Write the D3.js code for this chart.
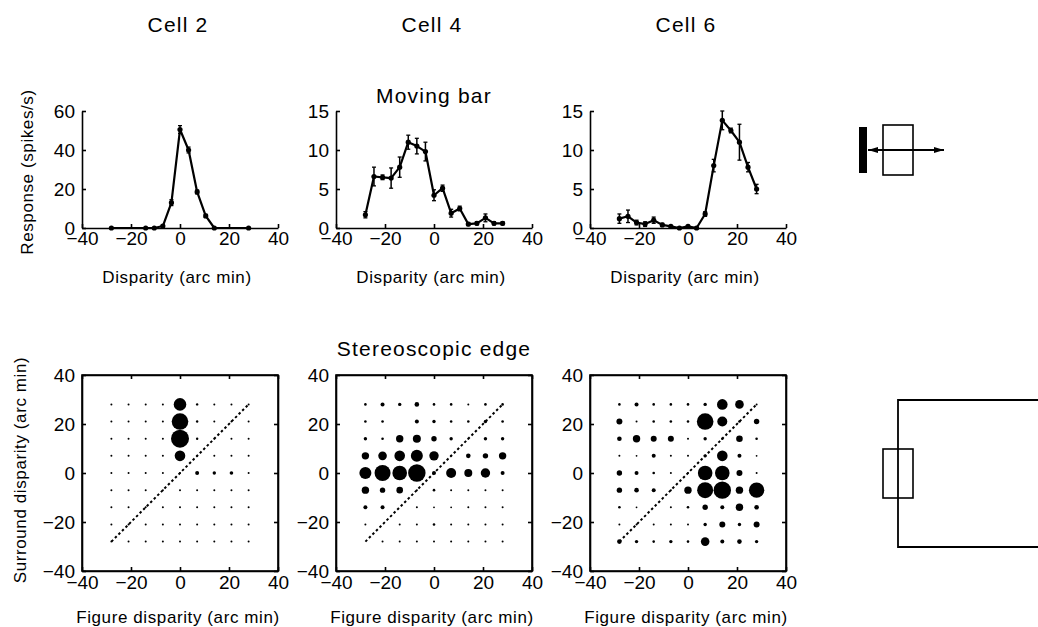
<!DOCTYPE html>
<html>
<head>
<meta charset="utf-8">
<script src="https://cdn.jsdelivr.net/npm/d3@7/dist/d3.min.js"></script>
<style>
  body { margin: 0; background: #fff; }
  svg { display: block; font-family: "Liberation Sans", Arial, sans-serif; }
</style>
</head>
<body>
<script>
// ---- data ----
var cellNames = ["Cell 2", "Cell 4", "Cell 6"];

// moving bar tuning curves (disparity in arc min, response in spikes/s, +/- error)
var barDisp2 = [-28, -14, -10.5, -7, -3.5, 0, 3.5, 7, 10.5, 14, 28];
var barResp2 = [0, 0, 0, 1, 13, 50.5, 40, 18.5, 6.2, 0, 0];
var barErr2  = [0, 0, 0, 0.5, 1.5, 2, 1.5, 1, 0.8, 0, 0];

var barDisp4 = [-28, -24.5, -21, -17.5, -14, -10.5, -7, -3.5, 0, 3.5, 7, 10.5, 14, 17.5, 21, 24.5, 28];
var barResp4 = [1.7, 6.6, 6.5, 6.4, 7.8, 11, 10.5, 9.8, 4.2, 5.1, 1.9, 2.5, 0.5, 0.6, 1.3, 0.6, 0.6];
var barErr4  = [0.4, 1.2, 0.3, 1.3, 1.3, 0.9, 1.0, 1.2, 0.7, 0.4, 0.5, 0.3, 0.2, 0.2, 0.5, 0.2, 0.2];

var barDisp6 = [-28, -24.5, -21, -17.5, -14, -10.5, -7, -3.5, 0, 3.5, 7, 10.5, 14, 17.5, 21, 24.5, 28];
var barResp6 = [1.2, 1.5, 0.7, 0.5, 1.0, 0.4, 0.2, 0, 0.2, 0, 1.8, 8, 13.8, 12.5, 11, 7.8, 5];
var barErr6  = [0.6, 0.8, 0.3, 0.3, 0.4, 0.2, 0.1, 0.1, 0.1, 0.1, 0.3, 0.8, 1.2, 0.3, 2.3, 0.6, 0.6];

var barYMax = [60, 15, 15];
var barYTicks = [[0, 20, 40, 60], [0, 5, 10, 15], [0, 5, 10, 15]];
var dispTicks = [-40, -20, 0, 20, 40];

// stereoscopic edge: figure disparity (columns) x surround disparity (rows, top = +28)
var figureDisp = [-28, -21, -14, -7, 0, 7, 14, 21, 28];
var surroundDisp = [28, 21, 14, 7, 0, -7, -14, -21, -28];

var edge2 = [
  [1, 1, 1, 1, 6.3, 1.2, 1, 1, 1],
  [1, 1, 1, 1, 8.3, 1.2, 1, 1, 1],
  [1, 1, 1, 1, 9, 1.2, 1, 1, 1],
  [1, 1, 1, 1, 5.3, 1, 1, 1, 1],
  [1, 1, 1, 1, 1, 2, 1.7, 1.8, 1],
  [1, 1, 1, 1, 1, 1, 1, 1, 1],
  [1, 1, 1, 1, 1, 1, 1, 1, 1],
  [1, 1, 1, 1, 1, 1, 1, 1, 1],
  [1, 1, 1, 1, 1, 1, 1, 1, 1]
];
var edge4 = [
  [1.3, 2, 1.7, 2.3, 1.3, 1.3, 1, 1.3, 1.3],
  [1.3, 1.3, 0, 2, 1.7, 1.3, 1.3, 1.7, 1.3],
  [1.7, 1.3, 3.7, 4, 2.7, 1.7, 1, 1.7, 1.7],
  [3.7, 4.3, 5.3, 6, 4.7, 1, 2.3, 2.7, 3.7],
  [6, 8, 7.3, 8.7, 2, 5, 4, 4.7, 2],
  [3.7, 2.7, 3.3, 1, 1.3, 1, 1, 1, 1],
  [2, 2, 0, 1, 0.9, 0.9, 1, 1, 1],
  [1, 0, 1, 1, 1.3, 1, 1, 1, 1],
  [0, 1, 1, 1, 1, 1, 1, 1, 1]
];
var edge6 = [
  [1.3, 2, 1.3, 1.3, 1.3, 1.7, 5.3, 4.3, 1],
  [3, 1, 1.3, 1.3, 1.3, 8.3, 5, 1.3, 2.7],
  [2.3, 3.7, 3, 3, 1, 1.7, 1.3, 3.3, 1.3],
  [1, 0.9, 2, 1, 1, 1.7, 5.3, 2, 0.9],
  [2.7, 2, 1.3, 1, 1, 7.3, 7.3, 3, 1],
  [2.7, 2.3, 2, 1, 3.7, 8, 8.7, 3.7, 7.7],
  [1.3, 0.9, 0, 1, 1.3, 2.7, 2, 3.7, 2.3],
  [1, 1, 1, 1, 1, 1.7, 3, 1.7, 3],
  [2.3, 1.7, 1.3, 1.7, 1.3, 4.3, 2, 2.3, 1.7]
];
var edgeTicks = [-40, -20, 0, 20, 40];

// ---- layout ----
var W = 1038, H = 627;
var lefts = [82, 336, 590], pw = 196;
var topBase = 228, topTop = 111;
var botBase = 571, botTop = 375;
var FONT = '"Liberation Sans", Arial, sans-serif';

var svg = d3.select("body").append("svg").attr("width", W).attr("height", H);

function styleAxis(g, showText) {
  g.attr("font-family", FONT).attr("font-size", 19);
  g.select(".domain").attr("stroke-width", 1.6);
  g.selectAll(".tick line").attr("stroke-width", 1.6);
  if (!showText) g.selectAll(".tick text").remove();
}
var fmt = function (d) { return d < 0 ? "\u2212" + Math.abs(d) : String(d); };

function title(txt, x, y, size, spacing) {
  svg.append("text").attr("x", x).attr("y", y).attr("text-anchor", "middle")
    .attr("font-size", size).attr("letter-spacing", spacing).attr("fill", "#000").text(txt);
}

cellNames.forEach(function (n, i) { title(n, lefts[i] + pw / 2 - 2, 32, 21, 1.2); });
title("Moving bar", lefts[1] + pw / 2, 103, 21, 1.2);
title("Stereoscopic edge", lefts[1] + pw / 2, 356, 21, 1.2);

// ---- moving bar row ----
var barData = [
  { d: barDisp2, r: barResp2, e: barErr2 },
  { d: barDisp4, r: barResp4, e: barErr4 },
  { d: barDisp6, r: barResp6, e: barErr6 }
];

barData.forEach(function (cd, i) {
  var x = d3.scaleLinear().domain([-40, 40]).range([lefts[i], lefts[i] + pw]);
  var y = d3.scaleLinear().domain([0, barYMax[i]]).range([topBase, topTop]);
  var pts = cd.d.map(function (v, j) { return { x: v, y: cd.r[j], e: cd.e[j] }; });
  var g = svg.append("g");

  g.append("g").attr("transform", "translate(0," + topBase + ")")
    .call(d3.axisBottom(x).tickValues(dispTicks).tickFormat(fmt).tickSizeInner(-4).tickSizeOuter(0).tickPadding(4))
    .call(styleAxis, true);
  g.append("g").attr("transform", "translate(" + lefts[i] + ",0)")
    .call(d3.axisLeft(y).tickValues(barYTicks[i]).tickFormat(fmt).tickSizeInner(-4).tickSizeOuter(0).tickPadding(7))
    .call(styleAxis, true);

  g.append("path").datum(pts)
    .attr("fill", "none").attr("stroke", "#000").attr("stroke-width", 2.2).attr("stroke-linejoin", "round")
    .attr("d", d3.line().x(function (p) { return x(p.x); }).y(function (p) { return y(p.y); }));

  var eb = g.selectAll(".err").data(pts.filter(function (p) { return p.e > 0; })).enter().append("g");
  eb.append("line")
    .attr("x1", function (p) { return x(p.x); }).attr("x2", function (p) { return x(p.x); })
    .attr("y1", function (p) { return y(p.y - p.e); }).attr("y2", function (p) { return y(p.y + p.e); })
    .attr("stroke", "#000").attr("stroke-width", 1.5);
  [-1, 1].forEach(function (s) {
    eb.append("line")
      .attr("x1", function (p) { return x(p.x) - 2; }).attr("x2", function (p) { return x(p.x) + 2; })
      .attr("y1", function (p) { return y(p.y + s * p.e); }).attr("y2", function (p) { return y(p.y + s * p.e); })
      .attr("stroke", "#000").attr("stroke-width", 1.3);
  });

  g.selectAll("circle").data(pts).enter().append("circle")
    .attr("cx", function (p) { return x(p.x); }).attr("cy", function (p) { return y(p.y); })
    .attr("r", 2.6).attr("fill", "#000");

  g.append("text").attr("x", lefts[i] + pw / 2 - 3).attr("y", 283).attr("text-anchor", "middle")
    .attr("font-size", 17).attr("letter-spacing", 0.6).text("Disparity (arc min)");
});

svg.append("text").attr("transform", "translate(33,172) rotate(-90)").attr("text-anchor", "middle")
  .attr("font-size", 17).attr("letter-spacing", 0.6).text("Response (spikes/s)");

// ---- stereoscopic edge row ----
var edgeData = [edge2, edge4, edge6];
var rSize = d3.scaleLinear().domain([0, 9]).range([0, 9]);

edgeData.forEach(function (grid, i) {
  var x = d3.scaleLinear().domain([-40, 40]).range([lefts[i], lefts[i] + pw]);
  var y = d3.scaleLinear().domain([-40, 40]).range([botBase, botTop]);
  var g = svg.append("g");

  g.append("rect").attr("x", x(-40)).attr("y", y(40)).attr("width", x(40) - x(-40)).attr("height", y(-40) - y(40))
    .attr("fill", "none").attr("stroke", "#000").attr("stroke-width", 1.6);

  g.append("g").attr("transform", "translate(0," + botBase + ")")
    .call(d3.axisBottom(x).tickValues(edgeTicks).tickFormat(fmt).tickSizeInner(-4).tickSizeOuter(0).tickPadding(5))
    .call(styleAxis, true);
  g.append("g").attr("transform", "translate(0," + botTop + ")")
    .call(d3.axisTop(x).tickValues(edgeTicks).tickSizeInner(-4).tickSizeOuter(0))
    .call(styleAxis, false);
  g.append("g").attr("transform", "translate(" + lefts[i] + ",0)")
    .call(d3.axisLeft(y).tickValues(edgeTicks).tickFormat(fmt).tickSizeInner(-4).tickSizeOuter(0).tickPadding(7))
    .call(styleAxis, true);
  g.append("g").attr("transform", "translate(" + (lefts[i] + pw) + ",0)")
    .call(d3.axisRight(y).tickValues(edgeTicks).tickSizeInner(-4).tickSizeOuter(0))
    .call(styleAxis, false);

  var cells = [];
  grid.forEach(function (row, ri) {
    row.forEach(function (v, ci) {
      if (v > 0) cells.push({ f: figureDisp[ci], s: surroundDisp[ri], v: v });
    });
  });
  g.selectAll("circle").data(cells).enter().append("circle")
    .attr("cx", function (c) { return x(c.f); }).attr("cy", function (c) { return y(c.s); })
    .attr("r", function (c) { return rSize(c.v); }).attr("fill", "#000");

  g.append("line")
    .attr("x1", x(figureDisp[0])).attr("y1", y(figureDisp[0]))
    .attr("x2", x(figureDisp[8])).attr("y2", y(figureDisp[8]))
    .attr("stroke", "#000").attr("stroke-width", 2).attr("stroke-dasharray", "2.5,2.5");

  g.append("text").attr("x", lefts[i] + pw / 2 - 2).attr("y", 623).attr("text-anchor", "middle")
    .attr("font-size", 17).attr("letter-spacing", 0.6).text("Figure disparity (arc min)");
});

svg.append("text").attr("transform", "translate(26,470) rotate(-90)").attr("text-anchor", "middle")
  .attr("font-size", 17).attr("letter-spacing", 0.6).text("Surround disparity (arc min)");

// ---- stimulus sketches ----
var defs = svg.append("defs");
defs.append("marker").attr("id", "ah").attr("viewBox", "0 0 10 6").attr("refX", 10).attr("refY", 3)
  .attr("markerWidth", 10).attr("markerHeight", 6).attr("markerUnits", "userSpaceOnUse").attr("orient", "auto-start-reverse")
  .append("path").attr("d", "M0,0 L10,3 L0,6 Z").attr("fill", "#000");

var sk = svg.append("g").attr("stroke", "#000").attr("fill", "none");
sk.append("rect").attr("x", 859).attr("y", 127).attr("width", 8).attr("height", 46).attr("fill", "#000").attr("stroke", "none");
sk.append("rect").attr("x", 883).attr("y", 125).attr("width", 30).attr("height", 50).attr("stroke-width", 1.6);
sk.append("line").attr("x1", 868).attr("y1", 150).attr("x2", 944).attr("y2", 150).attr("stroke-width", 1.8)
  .attr("marker-start", "url(#ah)").attr("marker-end", "url(#ah)");

sk.append("path").attr("d", "M1038,400 H898 V547 H1038").attr("stroke-width", 1.8);
sk.append("rect").attr("x", 883).attr("y", 449).attr("width", 30).attr("height", 49).attr("stroke-width", 1.6);
</script>
</body>
</html>
